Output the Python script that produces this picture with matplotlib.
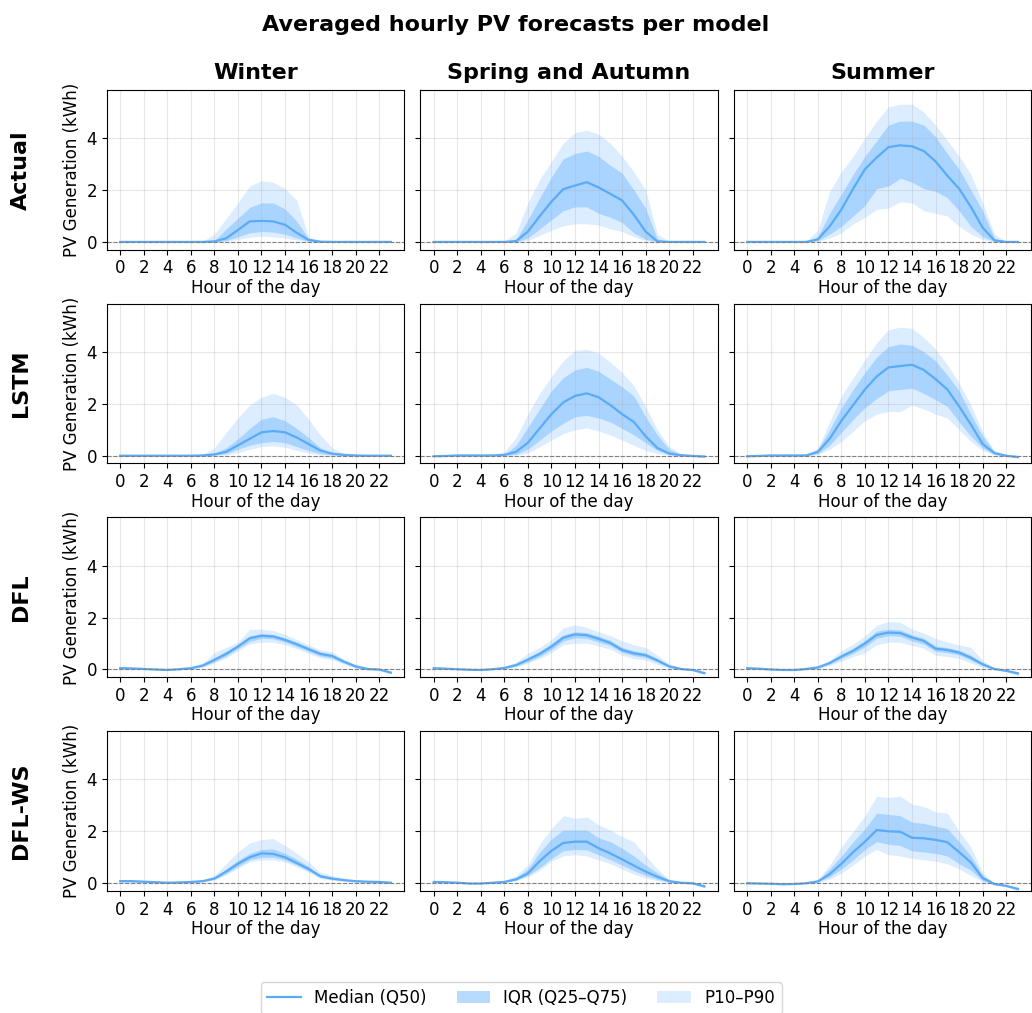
import numpy as np
import matplotlib
matplotlib.use('Agg')
import matplotlib.pyplot as plt
from matplotlib.lines import Line2D
from matplotlib.patches import Patch

hours = np.arange(24)
seasons = ['Winter', 'Spring and Autumn', 'Summer']
models = ['Actual', 'LSTM', 'DFL', 'DFL-WS']

# Actual
actual_winter_q50 = [0,0,0,0,0,0,0,0,0.02,0.14,0.46,0.79,0.81,0.79,0.66,0.35,0.08,0.01,0,0,0,0,0,0]
actual_winter_q75 = [0,0,0,0,0,0,0,0,0.05,0.5,0.91,1.33,1.5,1.5,1.27,0.8,0.12,0.01,0,0,0,0,0,0]
actual_winter_q25 = [0,0,0,0,0,0,0,0,0,0.05,0.2,0.35,0.4,0.38,0.3,0.15,0.02,0,0,0,0,0,0,0]
actual_winter_p90 = [0,0,0,0,0,0,0,0.02,0.3,0.9,1.5,2.15,2.35,2.3,2.05,1.6,0.2,0.02,0,0,0,0,0,0]
actual_winter_p10 = [0,0,0,0,0,0,0,0,0,0.02,0.1,0.18,0.22,0.2,0.15,0.07,0.01,0,0,0,0,0,0,0]

actual_spring_q50 = [0,0,0,0,0,0,0,0.03,0.4,0.99,1.55,2.03,2.17,2.3,2.1,1.85,1.6,1.05,0.4,0.02,0,0,0,0]
actual_spring_q75 = [0,0,0,0,0,0,0,0.1,0.85,1.7,2.5,3.2,3.4,3.5,3.3,2.95,2.65,2.0,1.3,0.12,0.01,0,0,0]
actual_spring_q25 = [0,0,0,0,0,0,0,0,0.15,0.5,0.85,1.2,1.35,1.35,1.1,0.95,0.75,0.35,0.1,0.01,0,0,0,0]
actual_spring_p90 = [0,0,0,0,0,0,0.02,0.35,1.5,2.4,3.1,3.8,4.2,4.3,4.15,3.8,3.3,2.7,2.0,0.3,0.03,0,0,0]
actual_spring_p10 = [0,0,0,0,0,0,0,0,0.05,0.25,0.45,0.62,0.7,0.7,0.65,0.5,0.4,0.2,0.05,0,0,0,0,0]

actual_summer_q50 = [0,0,0,0,0,0,0.1,0.6,1.25,2.05,2.8,3.25,3.65,3.72,3.68,3.5,3.1,2.55,2.05,1.35,0.55,0.06,0,0]
actual_summer_q75 = [0,0,0,0,0,0,0.2,1.1,1.85,2.6,3.3,3.9,4.5,4.65,4.65,4.5,4.05,3.4,2.8,2.0,1.2,0.15,0,0]
actual_summer_q25 = [0,0,0,0,0,0,0.05,0.3,0.6,1.0,1.4,2.05,2.15,2.45,2.3,2.05,1.95,1.7,1.2,0.6,0.2,0.02,0,0]
actual_summer_p90 = [0,0,0,0,0,0.02,0.45,1.95,2.7,3.3,4.0,4.65,5.2,5.3,5.3,5.0,4.5,3.9,3.3,2.6,1.5,0.3,0.02,0]
actual_summer_p10 = [0,0,0,0,0,0,0.02,0.15,0.35,0.7,0.95,1.25,1.3,1.55,1.5,1.2,1.1,1.0,0.6,0.3,0.1,0,0,0]

# LSTM
lstm_winter_q50 = [0,0,0,0,0,0,0,0.01,0.05,0.15,0.4,0.65,0.9,0.95,0.9,0.7,0.45,0.2,0.08,0.03,0.01,0,0,0]
lstm_winter_q75 = [0,0,0,0,0,0,0.01,0.03,0.1,0.3,0.65,1.05,1.4,1.5,1.35,1.05,0.7,0.3,0.12,0.05,0.02,0.01,0,0]
lstm_winter_q25 = [0,0,0,0,0,0,0,0,0.02,0.08,0.25,0.4,0.5,0.55,0.5,0.35,0.2,0.08,0.03,0.01,0,0,0,0]
lstm_winter_p90 = [0.01,0.01,0.01,0.01,0.01,0.01,0.02,0.05,0.3,0.9,1.45,1.95,2.25,2.4,2.25,1.95,1.4,0.8,0.3,0.1,0.05,0.02,0.01,0.01]
lstm_winter_p10 = [0,0,0,0,0,0,0,0,0.01,0.03,0.12,0.25,0.35,0.38,0.33,0.2,0.1,0.03,0.01,0,0,0,0,0]

lstm_spring_q50 = [-0.02,-0.01,0.01,0.01,0.01,0.01,0.03,0.15,0.5,1.05,1.6,2.05,2.3,2.4,2.25,1.95,1.6,1.3,0.75,0.3,0.08,0.02,-0.01,-0.03]
lstm_spring_q75 = [0,0.01,0.02,0.02,0.02,0.02,0.05,0.4,1.1,1.8,2.5,3.0,3.3,3.4,3.25,2.95,2.65,2.3,1.5,0.8,0.25,0.05,0.01,-0.01]
lstm_spring_q25 = [-0.03,-0.02,0,0,0,0,0.02,0.05,0.25,0.6,0.95,1.25,1.5,1.55,1.45,1.3,1.05,0.8,0.5,0.2,0.05,0.01,-0.02,-0.05]
lstm_spring_p90 = [0.01,0.02,0.03,0.03,0.03,0.04,0.15,0.7,1.6,2.4,3.05,3.65,4.05,4.1,3.95,3.6,3.2,2.7,1.9,1.0,0.35,0.08,0.02,0.0]
lstm_spring_p10 = [-0.04,-0.03,-0.01,-0.01,-0.01,-0.01,0.01,0.02,0.1,0.35,0.6,0.85,1.0,1.07,0.95,0.8,0.6,0.4,0.2,0.08,0.02,0,-0.03,-0.07]

lstm_summer_q50 = [-0.02,-0.01,0.01,0.01,0.01,0.01,0.15,0.65,1.35,1.95,2.55,3.05,3.4,3.45,3.5,3.3,2.95,2.55,1.9,1.2,0.45,0.1,0.0,-0.05]
lstm_summer_q75 = [0,0.01,0.02,0.02,0.02,0.02,0.25,1.0,1.85,2.55,3.2,3.8,4.2,4.3,4.25,4.0,3.65,3.1,2.5,1.6,0.75,0.15,0.02,-0.02]
lstm_summer_q25 = [-0.03,-0.02,0,0,0,0,0.08,0.4,0.9,1.4,1.85,2.2,2.5,2.55,2.6,2.4,2.15,1.9,1.3,0.75,0.3,0.05,-0.02,-0.08]
lstm_summer_p90 = [0.01,0.02,0.03,0.03,0.03,0.03,0.3,1.3,2.3,3.0,3.7,4.35,4.85,4.95,4.9,4.55,4.1,3.5,2.8,1.95,0.9,0.2,0.03,0.0]
lstm_summer_p10 = [-0.04,-0.03,-0.01,-0.01,-0.01,-0.01,0.05,0.25,0.55,0.95,1.35,1.6,1.7,1.7,1.95,1.8,1.6,1.45,1.0,0.55,0.2,0.03,-0.03,-0.1]

# DFL
dfl_winter_q50 = [0.05,0.04,0.02,0.0,-0.02,0.01,0.05,0.15,0.37,0.6,0.88,1.2,1.3,1.27,1.14,0.97,0.78,0.6,0.52,0.3,0.12,0.02,0.0,-0.12]
dfl_winter_q75 = [0.07,0.05,0.03,0.01,0.0,0.02,0.07,0.2,0.45,0.7,0.98,1.3,1.38,1.35,1.22,1.05,0.87,0.68,0.6,0.36,0.16,0.04,0.01,-0.08]
dfl_winter_q25 = [0.03,0.02,0.01,-0.01,-0.03,0.0,0.03,0.11,0.3,0.52,0.8,1.08,1.2,1.18,1.05,0.88,0.7,0.52,0.44,0.25,0.08,0.0,-0.02,-0.15]
dfl_winter_p90 = [0.08,0.06,0.04,0.02,0.01,0.03,0.09,0.25,0.65,0.85,1.05,1.55,1.55,1.5,1.35,1.15,0.95,0.75,0.68,0.4,0.2,0.06,0.02,-0.06]
dfl_winter_p10 = [0.02,0.01,0.0,-0.02,-0.04,-0.01,0.02,0.08,0.25,0.45,0.72,0.98,1.05,1.05,0.95,0.8,0.62,0.45,0.38,0.2,0.05,-0.02,-0.04,-0.18]

dfl_spring_q50 = [0.05,0.03,0.01,-0.01,-0.02,0.01,0.06,0.17,0.38,0.6,0.88,1.22,1.35,1.32,1.18,1.02,0.75,0.62,0.55,0.35,0.12,0.02,-0.02,-0.14]
dfl_spring_q75 = [0.07,0.05,0.02,0.0,-0.01,0.02,0.08,0.22,0.46,0.7,1.0,1.33,1.45,1.42,1.28,1.12,0.85,0.72,0.64,0.42,0.16,0.04,0.0,-0.1]
dfl_spring_q25 = [0.03,0.01,0.0,-0.02,-0.03,0.0,0.04,0.13,0.3,0.5,0.77,1.1,1.22,1.2,1.06,0.92,0.66,0.53,0.46,0.28,0.08,0.0,-0.04,-0.17]
dfl_spring_p90 = [0.09,0.06,0.03,0.01,0.0,0.03,0.1,0.28,0.62,0.85,1.15,1.6,1.72,1.62,1.45,1.3,1.1,0.95,0.85,0.55,0.22,0.06,0.01,-0.07]
dfl_spring_p10 = [0.02,0.0,-0.01,-0.03,-0.04,-0.01,0.02,0.1,0.24,0.42,0.65,0.95,1.0,1.02,0.9,0.78,0.55,0.42,0.36,0.2,0.05,-0.02,-0.05,-0.2]

dfl_summer_q50 = [0.05,0.03,0.0,-0.02,-0.02,0.02,0.08,0.25,0.5,0.72,1.0,1.33,1.42,1.4,1.23,1.1,0.8,0.75,0.65,0.45,0.2,0.02,-0.05,-0.15]
dfl_summer_q75 = [0.07,0.04,0.01,-0.01,-0.01,0.03,0.1,0.3,0.58,0.82,1.12,1.48,1.55,1.52,1.33,1.2,0.9,0.84,0.74,0.55,0.26,0.04,-0.03,-0.11]
dfl_summer_q25 = [0.03,0.01,-0.01,-0.03,-0.03,0.0,0.06,0.2,0.42,0.62,0.88,1.2,1.3,1.28,1.1,0.98,0.7,0.65,0.56,0.36,0.14,0.0,-0.07,-0.19]
dfl_summer_p90 = [0.09,0.05,0.02,0.0,0.0,0.04,0.12,0.36,0.72,0.98,1.3,1.7,1.85,1.82,1.55,1.4,1.2,1.05,0.95,0.85,0.35,0.06,-0.01,-0.08]
dfl_summer_p10 = [0.02,0.0,-0.02,-0.04,-0.04,-0.01,0.04,0.15,0.32,0.5,0.65,0.95,1.05,1.05,0.92,0.82,0.55,0.5,0.42,0.25,0.08,-0.02,-0.09,-0.23]

# DFL-WS
dflws_winter_q50 = [0.08,0.08,0.06,0.04,0.02,0.03,0.05,0.08,0.18,0.45,0.75,1.0,1.15,1.13,1.0,0.78,0.55,0.27,0.18,0.12,0.08,0.06,0.05,0.02]
dflws_winter_q75 = [0.1,0.1,0.08,0.05,0.03,0.04,0.06,0.1,0.22,0.55,0.88,1.15,1.3,1.32,1.15,0.92,0.65,0.33,0.22,0.15,0.1,0.07,0.06,0.03]
dflws_winter_q25 = [0.06,0.06,0.05,0.03,0.01,0.02,0.04,0.06,0.15,0.38,0.65,0.9,1.0,1.0,0.9,0.7,0.48,0.22,0.14,0.1,0.06,0.05,0.04,0.0]
dflws_winter_p90 = [0.14,0.13,0.1,0.06,0.04,0.05,0.08,0.13,0.3,0.75,1.2,1.55,1.68,1.72,1.45,1.15,0.82,0.42,0.3,0.2,0.13,0.09,0.07,0.04]
dflws_winter_p10 = [0.04,0.04,0.03,0.02,0.0,0.01,0.03,0.05,0.13,0.32,0.58,0.82,0.9,0.9,0.82,0.62,0.42,0.18,0.12,0.07,0.04,0.03,0.02,-0.03]

dflws_spring_q50 = [0.05,0.04,0.02,-0.01,-0.01,0.02,0.05,0.15,0.38,0.85,1.25,1.55,1.6,1.6,1.35,1.15,0.92,0.68,0.45,0.25,0.08,0.02,0.0,-0.12]
dflws_spring_q75 = [0.07,0.06,0.04,0.0,0.0,0.03,0.07,0.22,0.55,1.2,1.7,2.05,2.05,2.05,1.75,1.6,1.35,1.05,0.7,0.4,0.12,0.04,0.02,-0.08]
dflws_spring_q25 = [0.03,0.02,0.01,-0.02,-0.02,0.01,0.04,0.12,0.3,0.6,0.95,1.25,1.3,1.28,1.1,0.9,0.7,0.48,0.3,0.15,0.05,0.0,-0.02,-0.15]
dflws_spring_p90 = [0.1,0.08,0.05,0.01,0.01,0.04,0.1,0.3,0.7,1.5,2.1,2.6,2.5,2.55,2.25,2.05,1.8,1.6,1.05,0.55,0.15,0.05,0.03,-0.05]
dflws_spring_p10 = [0.02,0.01,0.0,-0.03,-0.03,0.0,0.03,0.1,0.25,0.5,0.85,1.05,1.1,1.05,0.9,0.75,0.55,0.35,0.2,0.1,0.03,-0.01,-0.04,-0.18]

dflws_summer_q50 = [0.0,-0.01,-0.02,-0.04,-0.03,0.0,0.07,0.35,0.75,1.2,1.6,2.05,2.0,1.98,1.75,1.73,1.67,1.58,1.2,0.8,0.2,-0.03,-0.1,-0.22]
dflws_summer_q75 = [0.02,0.0,-0.01,-0.03,-0.02,0.01,0.1,0.55,1.05,1.6,2.1,2.7,2.65,2.6,2.35,2.3,2.2,2.1,1.6,1.05,0.3,-0.01,-0.08,-0.18]
dflws_summer_q25 = [-0.01,-0.02,-0.03,-0.05,-0.04,-0.01,0.05,0.25,0.55,0.9,1.3,1.6,1.5,1.45,1.25,1.2,1.15,1.05,0.75,0.5,0.1,-0.05,-0.12,-0.25]
dflws_summer_p90 = [0.03,0.01,0.0,-0.02,-0.01,0.02,0.15,0.7,1.4,2.0,2.6,3.35,3.3,3.35,3.05,2.95,2.75,2.7,2.0,1.4,0.4,0.01,-0.06,-0.15]
dflws_summer_p10 = [-0.02,-0.03,-0.04,-0.06,-0.05,-0.02,0.03,0.15,0.4,0.7,1.05,1.3,1.1,1.05,0.95,0.9,0.85,0.75,0.55,0.3,0.05,-0.07,-0.14,-0.28]

# (p10, q25, q50, q75, p90) per model/season
panels = {
    'Actual': [
        (actual_winter_p10, actual_winter_q25, actual_winter_q50, actual_winter_q75, actual_winter_p90),
        (actual_spring_p10, actual_spring_q25, actual_spring_q50, actual_spring_q75, actual_spring_p90),
        (actual_summer_p10, actual_summer_q25, actual_summer_q50, actual_summer_q75, actual_summer_p90)],
    'LSTM': [
        (lstm_winter_p10, lstm_winter_q25, lstm_winter_q50, lstm_winter_q75, lstm_winter_p90),
        (lstm_spring_p10, lstm_spring_q25, lstm_spring_q50, lstm_spring_q75, lstm_spring_p90),
        (lstm_summer_p10, lstm_summer_q25, lstm_summer_q50, lstm_summer_q75, lstm_summer_p90)],
    'DFL': [
        (dfl_winter_p10, dfl_winter_q25, dfl_winter_q50, dfl_winter_q75, dfl_winter_p90),
        (dfl_spring_p10, dfl_spring_q25, dfl_spring_q50, dfl_spring_q75, dfl_spring_p90),
        (dfl_summer_p10, dfl_summer_q25, dfl_summer_q50, dfl_summer_q75, dfl_summer_p90)],
    'DFL-WS': [
        (dflws_winter_p10, dflws_winter_q25, dflws_winter_q50, dflws_winter_q75, dflws_winter_p90),
        (dflws_spring_p10, dflws_spring_q25, dflws_spring_q50, dflws_spring_q75, dflws_spring_p90),
        (dflws_summer_p10, dflws_summer_q25, dflws_summer_q50, dflws_summer_q75, dflws_summer_p90)],
}

col = '#4da6ff'

fig, axes = plt.subplots(4, 3, figsize=(10.32, 10.13), dpi=100, sharey=True)
fig.subplots_adjust(left=0.1034, right=0.9995, top=0.9112, bottom=0.1204,
                    wspace=0.053, hspace=0.338)

for i, m in enumerate(models):
    for j, s in enumerate(seasons):
        ax = axes[i, j]
        p10, q25, q50, q75, p90 = panels[m][j]
        ax.fill_between(hours, p10, p90, color=col, alpha=0.2, lw=0)
        ax.fill_between(hours, q25, q75, color=col, alpha=0.35, lw=0)
        ax.plot(hours, q50, color='#5aabf7', lw=1.6)
        ax.axhline(0, color='gray', ls='--', lw=0.8)
        ax.set_xticks(range(0, 24, 2))
        ax.tick_params(labelsize=12)
        ax.grid(True, alpha=0.3)
        ax.set_xlabel('Hour of the day', fontsize=12, labelpad=1)
        if j == 0:
            ax.set_ylabel('PV Generation (kWh)', fontsize=12)
        if i == 0:
            ax.set_title(s, fontsize=16, fontweight='bold', pad=8)
    pos = axes[i, 0].get_position()
    fig.text(0.02, (pos.y0 + pos.y1) / 2, m, rotation=90, fontsize=16,
             fontweight='bold', ha='center', va='center')

axes[0, 0].set_ylim(-0.3, 5.85)
axes[0, 0].set_yticks([0, 2, 4])

fig.suptitle('Averaged hourly PV forecasts per model', fontsize=16,
             fontweight='bold', y=0.985)

handles = [Line2D([0], [0], color='#5aabf7', lw=1.6),
           Patch(facecolor=col, alpha=0.4),
           Patch(facecolor=col, alpha=0.2)]
fig.legend(handles, ['Median (Q50)', 'IQR (Q25–Q75)', 'P10–P90'],
           loc='center', bbox_to_anchor=(0.505, 0.0148), ncol=3,
           fontsize=12, columnspacing=1.8)

fig.savefig('out.png', dpi=100)
